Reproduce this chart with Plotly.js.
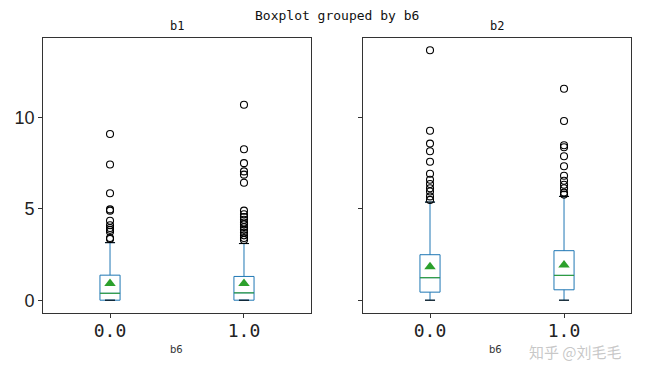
<!DOCTYPE html>
<html>
<head>
<meta charset="utf-8">
<script src="https://cdn.plot.ly/plotly-3.0.1.min.js"></script>
<style>html,body{margin:0;padding:0;background:#fff;}#chart{width:648px;height:368px;}</style>
</head>
<body>
<div id="chart"></div>
<script>
// categories (b6 groups)
const groups = ['0.0', '1.0'];
const positions = [1, 2];

// b1 box statistics per group
const b1Q1 = [0.0, 0.0];
const b1Median = [0.38, 0.40];
const b1Q3 = [1.37, 1.30];
const b1Lower = [0.0, 0.0];
const b1Upper = [3.15, 3.10];
const b1Mean = [0.92, 0.92];
const b1Outliers0 = [9.1, 7.43, 5.85, 4.97, 4.9, 4.35, 4.1, 3.95, 3.85, 3.75, 3.4, 3.35];
const b1Outliers1 = [10.7, 8.26, 7.5, 7.05, 6.87, 6.43, 4.9, 4.7, 4.55, 4.4, 4.25, 4.15, 4.0, 3.85, 3.7, 3.55, 3.4, 3.3];

// b2 box statistics per group
const b2Q1 = [0.44, 0.57];
const b2Median = [1.23, 1.36];
const b2Q3 = [2.49, 2.71];
const b2Lower = [0.0, 0.0];
const b2Upper = [5.37, 5.68];
const b2Mean = [1.83, 1.92];
const b2Outliers0 = [13.68, 9.27, 8.57, 8.15, 7.58, 6.92, 6.59, 6.36, 6.13, 5.95, 5.68, 5.49];
const b2Outliers1 = [11.57, 9.81, 8.48, 8.37, 7.88, 7.33, 6.81, 6.54, 6.32, 6.13, 5.89, 5.78];

const BLUE = '#1f77b4', GREEN = '#2ca02c';
const BOXW = 0.15;

function segs(vals, half) {
  const xs = [], ys = [];
  vals.forEach((v, i) => { xs.push(positions[i] - half, positions[i] + half, null); ys.push(v, v, null); });
  return {xs, ys};
}

function panel(q1, med, q3, lo, hi, mean, outs, xa, ya) {
  const traces = [];
  traces.push({
    type: 'box', x: positions, q1: q1, median: med, q3: q3,
    lowerfence: lo, upperfence: hi, width: BOXW, whiskerwidth: 0.5,
    boxpoints: false, fillcolor: 'rgba(0,0,0,0)',
    line: {color: BLUE, width: 1}, xaxis: xa, yaxis: ya, hoverinfo: 'skip', showlegend: false
  });
  const m = segs(med, BOXW / 2);
  traces.push({type: 'scatter', mode: 'lines', x: m.xs, y: m.ys, line: {color: GREEN, width: 1},
    xaxis: xa, yaxis: ya, showlegend: false, hoverinfo: 'skip'});
  const capsHi = segs(hi, BOXW / 4), capsLo = segs(lo, BOXW / 4);
  traces.push({type: 'scatter', mode: 'lines', x: capsHi.xs.concat(capsLo.xs), y: capsHi.ys.concat(capsLo.ys),
    line: {color: '#000', width: 1}, xaxis: xa, yaxis: ya, showlegend: false, hoverinfo: 'skip'});
  const ox = [], oy = [];
  outs.forEach((arr, i) => arr.forEach(v => { ox.push(positions[i]); oy.push(v); }));
  traces.push({type: 'scatter', mode: 'markers', x: ox, y: oy,
    marker: {symbol: 'circle-open', size: 7, color: '#000', line: {width: 1.1, color: '#000'}},
    xaxis: xa, yaxis: ya, showlegend: false, hoverinfo: 'skip'});
  traces.push({type: 'scatter', mode: 'markers', x: positions, y: mean,
    marker: {symbol: 'triangle-up', size: 10, color: GREEN},
    xaxis: xa, yaxis: ya, showlegend: false, hoverinfo: 'skip'});
  return traces;
}

const data = [].concat(
  panel(b1Q1, b1Median, b1Q3, b1Lower, b1Upper, b1Mean, [b1Outliers0, b1Outliers1], 'x', 'y'),
  panel(b2Q1, b2Median, b2Q3, b2Lower, b2Upper, b2Mean, [b2Outliers0, b2Outliers1], 'x2', 'y2')
);

const xCommon = {
  range: [0.5, 2.5], tickvals: positions, ticktext: groups, showline: true, mirror: true,
  linecolor: '#333', linewidth: 1, ticks: 'outside', ticklen: 4, tickcolor: '#333',
  zeroline: false, showgrid: false, fixedrange: true, ticklabelstandoff: -3,
  tickfont: {family: 'DejaVu Sans Mono', size: 18, color: '#222'}
};
const yCommon = {
  range: [-0.7, 14.35], tickvals: [0, 5, 10], showline: true, mirror: true,
  linecolor: '#333', linewidth: 1, ticks: 'outside', ticklen: 4, tickcolor: '#333',
  zeroline: false, showgrid: false, fixedrange: true,
  tickfont: {family: 'Liberation Sans', size: 18, color: '#222'},
  domain: [0.1495, 0.8967]
};

function ann(text, x, y, font) {
  return {text: text, xref: 'paper', yref: 'paper', x: x, y: y, xanchor: 'center', yanchor: 'middle',
    showarrow: false, font: font};
}

const layout = {
  width: 648, height: 368, margin: {l: 0, r: 0, t: 0, b: 0},
  paper_bgcolor: '#fff', plot_bgcolor: '#fff', showlegend: false,
  xaxis: Object.assign({}, xCommon, {domain: [0.0664, 0.4799], anchor: 'y'}),
  xaxis2: Object.assign({}, xCommon, {domain: [0.5602, 0.9738], anchor: 'y2'}),
  yaxis: Object.assign({}, yCommon, {anchor: 'x'}),
  yaxis2: Object.assign({}, yCommon, {anchor: 'x2', matches: 'y', showticklabels: false}),
  annotations: [
    ann('Boxplot grouped by b6', 0.52, 0.959, {family: 'DejaVu Sans Mono', size: 13, color: '#111'}),
    ann('b1', 0.2731, 0.929, {family: 'DejaVu Sans Mono', size: 12, color: '#111'}),
    ann('b2', 0.767, 0.929, {family: 'DejaVu Sans Mono', size: 12, color: '#111'}),
    ann('b6', 0.2731, 0.0516, {family: 'DejaVu Sans', size: 10, color: '#333'}),
    ann('b6', 0.764, 0.0516, {family: 'DejaVu Sans', size: 10, color: '#333'}),
    ann('知乎 @刘毛毛', 0.888, 0.044, {family: 'Noto Sans CJK SC', size: 15, color: 'rgba(175,175,175,0.7)'})
  ]
};

Plotly.newPlot('chart', data, layout, {staticPlot: true, displayModeBar: false});
</script>
</body>
</html>
